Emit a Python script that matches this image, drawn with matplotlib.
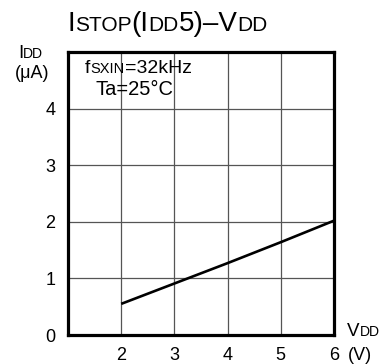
import matplotlib
matplotlib.use('Agg')
import matplotlib.pyplot as plt
import numpy as np

plt.rcParams['font.family'] = ['Liberation Sans', 'DejaVu Sans']

# ISTOP(IDD5) vs VDD, fSXIN=32kHz, Ta=25C
vdd = [2, 3, 4, 5, 6]
idd = [0.55, 0.91, 1.27, 1.64, 2.02]

xticks = [2, 3, 4, 5, 6]
yticks = [0, 1, 2, 3, 4]

W, H = 384, 364
fig = plt.figure(figsize=(W / 100, H / 100), dpi=100)
ax = fig.add_axes([68 / W, (H - 335) / H, (334 - 68) / W, (335 - 52) / H])

ax.plot(vdd, idd, 'k-', lw=1.9, solid_capstyle='butt', zorder=3)
ax.set_xlim(1, 6)
ax.set_ylim(0, 5)

ax.set_xticks(xticks)
ax.set_yticks(yticks)
ax.set_xticklabels([str(v) for v in xticks])
ax.set_yticklabels([str(v) for v in yticks])
ax.tick_params(length=0, labelsize=13)
ax.tick_params(axis='x', pad=9)
ax.tick_params(axis='y', pad=9)

for v in [2, 3, 4, 5]:
    ax.axvline(v, color='#555555', lw=0.9, zorder=1)
for v in [1, 2, 3, 4]:
    ax.axhline(v, color='#555555', lw=0.9, zorder=1)
for s in ax.spines.values():
    s.set_linewidth(2.3)

r = fig.canvas.get_renderer()


def mixed_text(x, y, parts):
    # x, y are pixels from the top-left, y is the baseline
    for s, size in parts:
        t = fig.text(x / W, 1 - y / H, s, fontsize=size, ha='left', va='baseline')
        bb = t.get_window_extent(renderer=r)
        x = bb.x1


mixed_text(67, 31, [('I', 20), ('STOP', 15), ('(I', 20), ('DD', 15), ('5)\u2013V', 20), ('DD', 15)])
mixed_text(18, 58, [('I', 13.5), ('DD', 10)])
mixed_text(15, 78, [('(\u03bcA)', 13)])
mixed_text(85, 73, [('f', 14), ('SXIN', 10.5), ('=32kHz', 14)])
mixed_text(95, 95, [('Ta=25\u00b0C', 14.5)])
mixed_text(347, 336, [('V', 13.5), ('DD', 10)])
mixed_text(348, 360, [('(V)', 13)])

fig.savefig('out.png', dpi=100)
